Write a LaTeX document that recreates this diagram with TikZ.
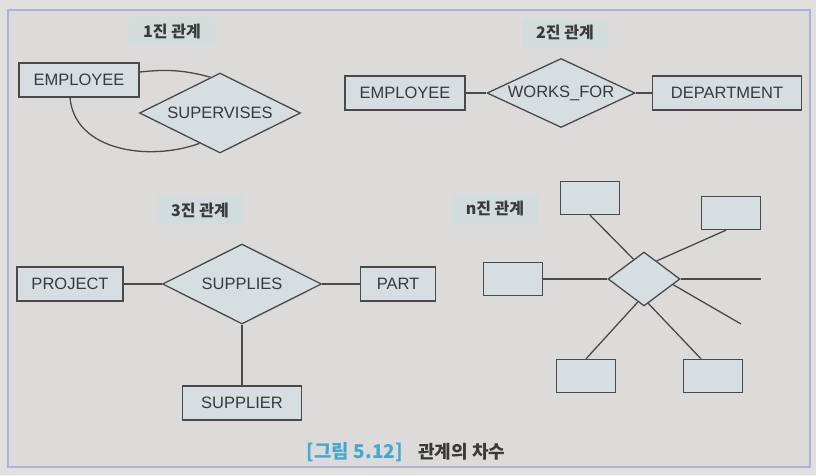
\documentclass[tikz,border=0pt]{standalone}
\usepackage{fontspec}
\setmainfont{Liberation Sans}
\newfontfamily\kofont{Noto Sans CJK KR}
\usepackage{tikz}
\usetikzlibrary{arrows}
\usetikzlibrary{calc,shapes}
\definecolor{fondext}{HTML}{E1E0DE}
\definecolor{fondint}{HTML}{DCDBD9}
\definecolor{cadre}{HTML}{A9B4D8}
\definecolor{remplis}{HTML}{D6DEE1}
\definecolor{trait}{HTML}{4A4A4A}
\definecolor{texte}{HTML}{3A3A3A}
\definecolor{fondtitre}{HTML}{D3DCDC}
\definecolor{bleufig}{HTML}{46A8D2}
\tikzset{
  entite/.style={draw=trait,fill=remplis,line width=1.3pt,minimum height=34pt,inner sep=0pt,text=texte,font=\fontsize{16.5pt}{18pt}\selectfont},
  relation/.style={diamond,draw=trait,fill=remplis,line width=1.3pt,inner sep=0pt,aspect=2,text=texte,font=\fontsize{16.5pt}{18pt}\selectfont},
  titre/.style={fill=fondtitre,minimum width=86pt,minimum height=29pt,inner sep=0pt,text=texte,font=\kofont\bfseries\fontsize{16pt}{18pt}\selectfont},
  lien/.style={draw=trait,line width=1.3pt}
}
\begin{document}
\begin{tikzpicture}[x=1pt,y=-1pt]
\useasboundingbox (0,0) rectangle (816,475);
\fill [fondext] (0,0) rectangle (816,475);
\draw [cadre,line width=2pt,fill=fondint] (8,10) rectangle (810,467);
			% 1진 관계
\node [titre] (t1) at (172,31) {1진 관계};
\node [entite,minimum width=120pt] (emp1) at (79,80) {EMPLOYEE};
\node [relation,minimum width=161pt,minimum height=80pt] (sup) at (220,113) {SUPERVISES};
\draw [lien] ([yshift=8pt]emp1.east) to[out=6,in=165] (sup.105);
\draw [lien] ([xshift=-9pt]emp1.south) to[out=-85,in=200] (sup.236);
			% 2진 관계
\node [titre] (t2) at (565,32) {2진 관계};
\node [entite,minimum width=120pt] (emp2) at (405,93) {EMPLOYEE};
\node [relation,minimum width=148pt,minimum height=69pt] (wf) at (561,93) {WORKS\_FOR};
\node [entite,minimum width=149pt] (dept) at (727,93) {DEPARTMENT};
\draw [lien] (emp2.east) -- (wf.west);
\draw [lien] (wf.east) -- (dept.west);
			% 3진 관계
\node [titre] (t3) at (200,210) {3진 관계};
\node [entite,minimum width=106pt] (proj) at (70,284) {PROJECT};
\node [relation,minimum width=159pt,minimum height=80pt] (sups) at (242,284) {SUPPLIES};
\node [entite,minimum width=75pt] (part) at (398,284) {PART};
\node [entite,minimum width=119pt] (supl) at (242,403) {SUPPLIER};
\draw [lien] (proj.east) -- (sups.west);
\draw [lien] (sups.east) -- (part.west);
\draw [lien] (sups.south) -- (supl.north);
			% n진 관계
\node [titre] (tn) at (495,208) {n진 관계};
\node [relation,minimum width=72pt,minimum height=54pt] (nrel) at (644,279) {};
\node [entite,minimum width=59pt,minimum height=33pt] (ent1) at (590,198) {};
\node [entite,minimum width=59pt,minimum height=33pt] (ent2) at (731,213) {};
\node [entite,minimum width=59pt,minimum height=33pt] (ent3) at (513,279) {};
\node [entite,minimum width=59pt,minimum height=33pt] (ent4) at (586,376) {};
\node [entite,minimum width=59pt,minimum height=33pt] (ent5) at (713,376) {};
\coordinate (bout1) at (761,279);
\coordinate (bout2) at (741,324);
\draw [lien] (ent1.south) -- (nrel.118);
\draw [lien] ([xshift=-5pt]ent2.south) -- (nrel.55);
\draw [lien] (ent3.east) -- (nrel.west);
\draw [lien] (nrel.east) -- (bout1);
\draw [lien] (nrel.-11) -- (bout2);
\draw [lien] (ent4.north) -- (nrel.255);
\draw [lien] ([xshift=-12pt]ent5.north) -- (nrel.280);
			% Légende
\node [text=bleufig,font=\kofont\bfseries\fontsize{19pt}{20pt}\selectfont,anchor=east,inner sep=0pt] (fig) at (403,452) {[그림 5.12]};
\node [text=texte,font=\kofont\bfseries\fontsize{18pt}{20pt}\selectfont,anchor=west,inner sep=0pt] (leg) at (418,452) {관계의 차수};
\end{tikzpicture}
\end{document}
